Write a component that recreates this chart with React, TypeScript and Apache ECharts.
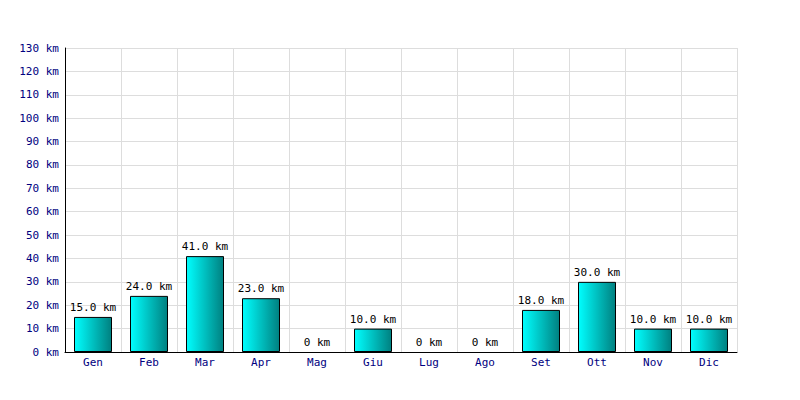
import React, { useEffect, useRef } from "react";
import * as echarts from "echarts";

const months = ["Gen", "Feb", "Mar", "Apr", "Mag", "Giu", "Lug", "Ago", "Set", "Ott", "Nov", "Dic"];
const km = [15, 24, 41, 23, 0, 10, 0, 0, 18, 30, 10, 10];
const yMax = 130;
const yStep = 10;

export default function App() {
  const ref = useRef<HTMLDivElement>(null);
  useEffect(() => {
    const chart = echarts.init(ref.current!, null, { renderer: "svg" });
    const font = "DejaVu Sans Mono";
    chart.setOption({
      animation: false,
      backgroundColor: "#ffffff",
      grid: { left: 65, right: 63, top: 48, bottom: 48, containLabel: false },
      xAxis: {
        type: "category",
        data: months,
        boundaryGap: true,
        axisLine: { show: true, lineStyle: { color: "#000000", width: 1 } },
        axisTick: { show: false },
        axisLabel: { color: "#000080", fontFamily: font, fontSize: 11, margin: 5 },
        splitLine: { show: true, lineStyle: { color: "#dddddd", width: 1 } },
      },
      yAxis: {
        type: "value",
        min: 0,
        max: yMax,
        interval: yStep,
        axisLine: { show: true, lineStyle: { color: "#000000", width: 1 } },
        axisTick: { show: false },
        axisLabel: {
          color: "#000080",
          fontFamily: font,
          fontSize: 11,
          margin: 6,
          formatter: (v: number) => `${v} km`,
        },
        splitLine: { show: true, lineStyle: { color: "#dddddd", width: 1 } },
      },
      series: [
        {
          type: "bar",
          data: km.map((v) =>
            v === 0
              ? { value: v, itemStyle: { borderWidth: 0, borderColor: "transparent", color: "transparent" } }
              : v
          ),
          barWidth: 38,
          itemStyle: {
            color: new echarts.graphic.LinearGradient(0, 0, 1, 0, [
              { offset: 0, color: "#00ffff" },
              { offset: 1, color: "#008080" },
            ]),
            borderColor: "#000000",
            borderWidth: 1,
          },
          label: {
            show: true,
            position: "top",
            distance: 4,
            color: "#000000",
            fontFamily: font,
            fontSize: 11,
            formatter: (p: any) => (p.value === 0 ? "0 km" : `${p.value.toFixed(1)} km`),
          },
        },
      ],
    });
    return () => chart.dispose();
  }, []);
  return <div ref={ref} style={{ width: 800, height: 400, position: "absolute", left: 0, top: 0 }} />;
}
